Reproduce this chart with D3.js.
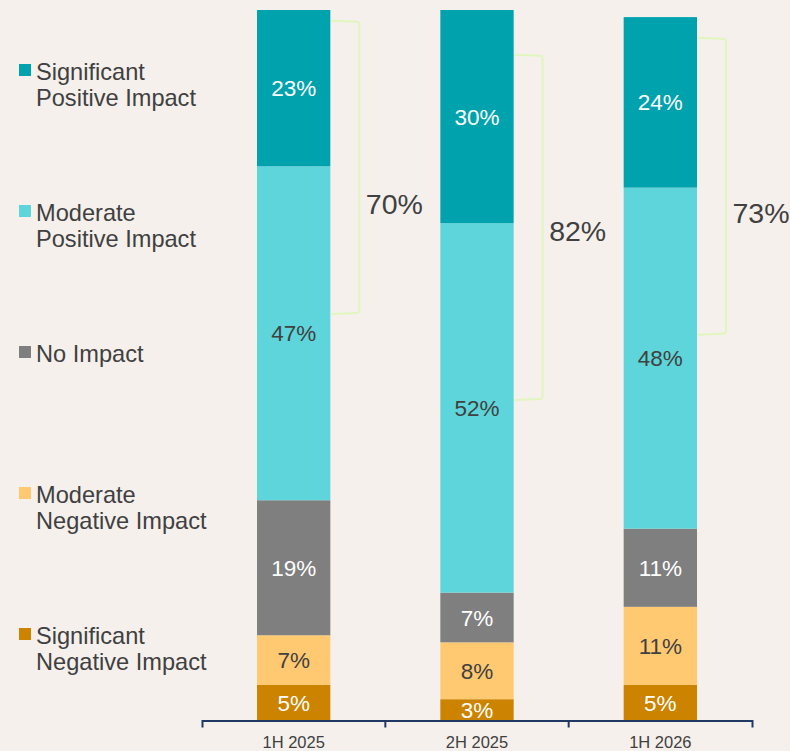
<!DOCTYPE html>
<html>
<head>
<meta charset="utf-8">
<script src="https://cdn.jsdelivr.net/npm/d3@7/dist/d3.min.js"></script>
<style>
  html, body { margin: 0; padding: 0; background: #F5F0EC; }
  svg { display: block; font-family: "Liberation Sans", Arial, sans-serif; }
</style>
</head>
<body>
<svg id="chart" width="790" height="751"></svg>
<script>
// Survey periods and share of responses (%) per impact level, bottom to top
const periods = ["1H 2025", "2H 2025", "1H 2026"];
const levels = [
  "Significant Negative Impact",
  "Moderate Negative Impact",
  "No Impact",
  "Moderate Positive Impact",
  "Significant Positive Impact"
];
const significantNegative = [5, 3, 5];
const moderateNegative = [7, 8, 11];
const noImpact = [19, 7, 11];
const moderatePositive = [47, 52, 48];
const significantPositive = [23, 30, 24];
// Combined positive share shown beside each bar
const positiveTotals = [70, 82, 73];

const seriesValues = [significantNegative, moderateNegative, noImpact, moderatePositive, significantPositive];
const colors = ["#CC8400", "#FFC972", "#7F7F7F", "#5DD5DB", "#00A3AD"];
const labelColors = ["#FFFFFF", "#404040", "#FFFFFF", "#404040", "#FFFFFF"];

const rows = periods.map((p, i) => {
  const r = { period: p };
  levels.forEach((l, j) => { r[l] = seriesValues[j][i]; });
  return r;
});

const svg = d3.select("#chart");
const plotTop = 10, plotBottom = 720.5;

const x = d3.scaleBand().domain(periods).range([202, 752]).paddingInner(0.6).paddingOuter(0.3);
const y = d3.scaleLinear().domain([0, 100]).range([plotBottom, plotTop]);

const stacked = d3.stack().keys(levels)(rows);

// Plot area clips anything above 100%
svg.append("defs").append("clipPath").attr("id", "plot")
  .append("rect").attr("x", 0).attr("y", plotTop).attr("width", 790).attr("height", plotBottom - plotTop);

const bars = svg.append("g").attr("clip-path", "url(#plot)");
stacked.forEach((layer, j) => {
  bars.selectAll(null).data(layer).join("rect")
    .attr("x", d => x(d.data.period))
    .attr("width", x.bandwidth())
    .attr("y", d => y(d[1]))
    .attr("height", d => y(d[0]) - y(d[1]))
    .attr("fill", colors[j]);
});

// Segment value labels
stacked.forEach((layer, j) => {
  svg.append("g").selectAll("text").data(layer).join("text")
    .attr("x", d => x(d.data.period) + x.bandwidth() / 2)
    .attr("y", d => (Math.max(y(d[1]), plotTop) + y(d[0])) / 2)
    .attr("dy", "0.36em")
    .attr("text-anchor", "middle")
    .attr("font-size", 22.5)
    .attr("fill", labelColors[j])
    .text(d => (d[1] - d[0]) + "%");
});

// X axis with separators between periods
const axis = svg.append("g").attr("transform", `translate(0,${plotBottom})`)
  .call(d3.axisBottom(x).tickSizeInner(0).tickSizeOuter(7).tickPadding(16));
axis.select(".domain").attr("stroke", "#1F3864").attr("stroke-width", 2);
axis.selectAll(".tick text").attr("font-size", 16.5).attr("fill", "#404040")
  .attr("font-family", "'Liberation Sans', Arial, sans-serif");
const step = x.step();
periods.slice(1).forEach(p => {
  const bx = x(p) - x.paddingInner() * step / 2;
  axis.append("line").attr("x1", bx).attr("x2", bx).attr("y1", 0).attr("y2", 7)
    .attr("stroke", "#1F3864").attr("stroke-width", 2);
});

// Brackets grouping the positive responses, with their combined share
const bracketSpans = [[98.5, 57.2], [93.7, 45.1], [96.1, 54.3]];
const bracketLabelAt = [72.8, 69.0, 71.4];
periods.forEach((p, i) => {
  const x0 = x(p) + x.bandwidth() + 1;
  const x1 = x0 + 28;
  const yt = y(bracketSpans[i][0]), yb = y(bracketSpans[i][1]);
  svg.append("path")
    .attr("d", `M${x0},${yt} L${x1 - 3},${yt + 1} Q${x1},${yt + 1} ${x1},${yt + 4} V${yb - 4} Q${x1},${yb - 1} ${x1 - 3},${yb - 1} L${x0},${yb}`)
    .attr("fill", "none").attr("stroke", "#E0F6BE").attr("stroke-width", 2);
  svg.append("text")
    .attr("x", x1 + 6.5).attr("y", y(bracketLabelAt[i])).attr("dy", "0.36em")
    .attr("font-size", 28.5).attr("fill", "#404040")
    .text(positiveTotals[i] + "%");
});

// Legend, top to bottom
const legendOrder = levels.map((l, j) => ({ name: l, color: colors[j] })).reverse();
const legendLines = [
  ["Significant", "Positive Impact"],
  ["Moderate", "Positive Impact"],
  ["No Impact"],
  ["Moderate", "Negative Impact"],
  ["Significant", "Negative Impact"]
];
const legend = svg.append("g");
legendOrder.forEach((item, k) => {
  const base = 80 + k * 141;
  legend.append("rect").attr("x", 19).attr("y", base - 16).attr("width", 12).attr("height", 12).attr("fill", item.color);
  const t = legend.append("text").attr("x", 36).attr("y", base).attr("font-size", 23.6).attr("fill", "#404040");
  legendLines[k].forEach((line, m) => {
    t.append("tspan").attr("x", 36).attr("y", base + m * 26).text(line);
  });
});
</script>
</body>
</html>
